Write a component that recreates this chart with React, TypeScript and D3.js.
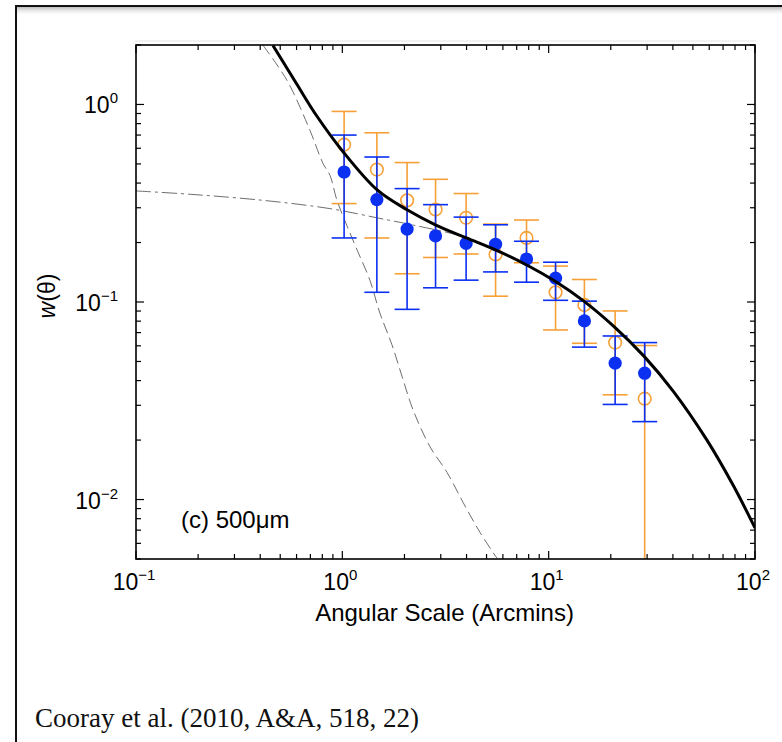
import React from "react";
import * as d3 from "d3";

// ---- Data ----
const theta = [1.02, 1.47, 2.06, 2.83, 3.98, 5.53, 7.81, 10.8, 14.9, 21.0, 29.2];
const blueW = [0.455, 0.33, 0.234, 0.216, 0.198, 0.196, 0.165, 0.132, 0.0802, 0.049, 0.0436];
const blueHi = [0.7, 0.542, 0.375, 0.311, 0.269, 0.246, 0.203, 0.159, 0.101, 0.0673, 0.0623];
const blueLo = [0.211, 0.112, 0.0918, 0.118, 0.129, 0.142, 0.126, 0.102, 0.0591, 0.0303, 0.0248];
const orangeW = [0.626, 0.468, 0.327, 0.294, 0.267, 0.174, 0.211, 0.112, 0.0966, 0.0623, 0.0324];
const orangeHi = [0.922, 0.719, 0.508, 0.418, 0.354, 0.248, 0.26, 0.152, 0.13, 0.0901, 0.0602];
const orangeLo = [0.315, 0.211, 0.139, 0.168, 0.175, 0.107, 0.158, 0.0722, 0.0618, 0.0339, 0.001];

const totalX = [0.461, 0.601, 0.752, 1.01, 1.48, 2.07, 2.84, 3.99, 5.52, 7.83, 10.8, 14.7, 21.0, 29.1, 40.2, 58.3, 78.5, 100];
const totalY = [1.99, 1.269, 0.874, 0.575, 0.368, 0.292, 0.245, 0.211, 0.1837, 0.154, 0.127, 0.1016, 0.0742, 0.0529, 0.0353, 0.0201, 0.01177, 0.00718];

const oneHaloX = [0.413, 0.54, 0.697, 0.805, 0.871, 0.942, 1.05, 1.18, 1.36, 1.52, 1.74, 1.97, 2.2, 2.66, 3.22, 3.85, 4.65, 5.62];
const oneHaloY = [1.99, 1.32, 0.739, 0.504, 0.438, 0.327, 0.245, 0.183, 0.129, 0.088, 0.0607, 0.0404, 0.0285, 0.0185, 0.0137, 0.00966, 0.00681, 0.00504];

const twoHaloX = [0.1, 0.183, 0.414, 0.871, 1.52, 2.21, 3.86, 5.5, 7.83, 10.8, 14.7, 21.0, 29.1, 40.2, 58.3, 78.5, 100];
const twoHaloY = [0.365, 0.351, 0.327, 0.297, 0.265, 0.245, 0.214, 0.1837, 0.153, 0.126, 0.101, 0.0738, 0.0527, 0.0352, 0.02, 0.0117, 0.00715];

const xMajor = [0.1, 1, 10, 100];
const xExp = ["\u22121", "0", "1", "2"];
const yMajor = [1, 0.1, 0.01];
const yExp = ["0", "\u22121", "\u22122"];

const xLabel = "Angular Scale (Arcmins)";
const yLabelW = "w";
const yLabelRest = "(\u03b8)";
const panelLabel = "(c) 500\u03bcm";
const caption = "Cooray et al. (2010, A&A, 518, 22)";

const W = 782;
const H = 742;
const L = 136, R = 755, T = 45, B = 559;

const BLUE = "#0b30f2";
const ORANGE = "#f6a037";
const SANS = "'Liberation Sans', Arial, Helvetica, sans-serif";

export default function App() {
  const x = d3.scaleLog().domain([0.1, 100]).range([L, R]);
  const y = d3.scaleLog().domain([0.005, 2.0]).range([B, T]);

  const line = (xs: number[], ys: number[]) =>
    d3
      .line<number>()
      .x((_, i) => x(xs[i]))
      .y((_, i) => y(ys[i]))
      .curve(d3.curveCatmullRom.alpha(0.5))(xs) || "";

  const xMinor: number[] = [];
  [0.1, 1, 10].forEach((d) => {
    for (let k = 2; k <= 9; k++) xMinor.push(d * k);
  });
  const yMinor: number[] = [];
  [0.001, 0.01, 0.1, 1].forEach((d) => {
    for (let k = 2; k <= 9; k++) {
      const v = d * k;
      if (v >= 0.005 && v <= 2.0) yMinor.push(v);
    }
  });

  const maj = 8, mnr = 5;
  const capW = 12.5;

  const ebar = (
    xs: number[],
    lo: number[],
    hi: number[],
    color: string,
    key: string
  ) =>
    xs.map((t, i) => {
      const cx = x(t);
      const yl = Math.min(y(Math.max(lo[i], 1e-6)), B + 40);
      const yh = y(hi[i]);
      return (
        <g key={key + i} stroke={color} strokeWidth={1.6} fill="none">
          <line x1={cx} x2={cx} y1={yh} y2={yl} />
          <line x1={cx - capW} x2={cx + capW} y1={yh} y2={yh} />
          <line x1={cx - capW} x2={cx + capW} y1={yl} y2={yl} />
        </g>
      );
    });

  return (
    <svg
      width={W}
      height={H}
      style={{ position: "absolute", left: 0, top: 0, background: "#fff" }}
    >
      <defs>
        <clipPath id="plotclip">
          <rect x={L} y={T} width={R - L} height={B - T} />
        </clipPath>
        <linearGradient id="shadowTop" x1="0" y1="0" x2="0" y2="1">
          <stop offset="0" stopColor="#bdbdbd" />
          <stop offset="1" stopColor="#ffffff" stopOpacity={0} />
        </linearGradient>
      </defs>
      <rect x={0} y={0} width={W} height={H} fill="#fff" />
      {/* outer page frame */}
      <rect x={17} y={7} width={W} height={9} fill="url(#shadowTop)" />
      <line x1={16} x2={W} y1={6} y2={6} stroke="#111" strokeWidth={2} />
      <line x1={16} x2={16} y1={5} y2={H} stroke="#111" strokeWidth={2} />
      <line x1={135} x2={R + 1} y1={41} y2={41} stroke="#e4e4e4" strokeWidth={1} />

      <g clipPath="url(#plotclip)">
        <path
          d={line(oneHaloX, oneHaloY)}
          fill="none"
          stroke="#6e6e6e"
          strokeWidth={1}
          strokeDasharray="11,5"
        />
        <path
          d={line(twoHaloX, twoHaloY)}
          fill="none"
          stroke="#6e6e6e"
          strokeWidth={1}
          strokeDasharray="15,4,3,4"
        />
        {ebar(theta, orangeLo, orangeHi, ORANGE, "o")}
        {theta.map((t, i) => (
          <circle
            key={"oc" + i}
            cx={x(t)}
            cy={y(orangeW[i])}
            r={6.3}
            fill="none"
            stroke={ORANGE}
            strokeWidth={1.6}
          />
        ))}
        {ebar(theta, blueLo, blueHi, BLUE, "b")}
        {theta.map((t, i) => (
          <circle key={"bc" + i} cx={x(t)} cy={y(blueW[i])} r={6.6} fill={BLUE} />
        ))}
        <path d={line(totalX, totalY)} fill="none" stroke="#000" strokeWidth={3} />
      </g>

      {/* frame */}
      <rect x={L} y={T} width={R - L} height={B - T} fill="none" stroke="#000" strokeWidth={1.6} />
      {/* ticks */}
      <g stroke="#000" strokeWidth={1.2}>
        {xMajor.map((v) => (
          <g key={"xm" + v}>
            <line x1={x(v)} x2={x(v)} y1={B} y2={B - maj} />
            <line x1={x(v)} x2={x(v)} y1={T} y2={T + maj} />
          </g>
        ))}
        {xMinor.map((v) => (
          <g key={"xn" + v}>
            <line x1={x(v)} x2={x(v)} y1={B} y2={B - mnr} />
            <line x1={x(v)} x2={x(v)} y1={T} y2={T + mnr} />
          </g>
        ))}
        {yMajor.map((v) => (
          <g key={"ym" + v}>
            <line x1={L} x2={L + maj} y1={y(v)} y2={y(v)} />
            <line x1={R} x2={R - maj} y1={y(v)} y2={y(v)} />
          </g>
        ))}
        {yMinor.map((v) => (
          <g key={"yn" + v}>
            <line x1={L} x2={L + mnr} y1={y(v)} y2={y(v)} />
            <line x1={R} x2={R - mnr} y1={y(v)} y2={y(v)} />
          </g>
        ))}
      </g>

      {/* tick labels */}
      <g fontFamily={SANS} fill="#000">
        {xMajor.map((v, i) => (
          <text key={"xl" + v} x={x(v) - 2} y={590} textAnchor="middle" fontSize={23}>
            10
            <tspan fontSize={15} dy={-10}>
              {xExp[i]}
            </tspan>
          </text>
        ))}
        {yMajor.map((v, i) => (
          <text key={"yl" + v} x={118} y={y(v) + 9} textAnchor="end" fontSize={23}>
            10
            <tspan fontSize={15} dy={-10}>
              {yExp[i]}
            </tspan>
          </text>
        ))}
        <text x={(L + R) / 2 - 1} y={621} textAnchor="middle" fontSize={24}>
          {xLabel}
        </text>
        <text
          transform={`translate(55, ${(T + B) / 2 - 6}) rotate(-90)`}
          textAnchor="middle"
          fontSize={23}
        >
          <tspan fontStyle="italic">{yLabelW}</tspan>
          {yLabelRest}
        </text>
        <text x={181} y={528} fontSize={24}>
          {panelLabel}
        </text>
      </g>

      <text
        x={35}
        y={727}
        fontFamily="'Liberation Serif', 'DejaVu Serif', serif"
        fontSize={27}
        fill="#111"
      >
        {caption}
      </text>
    </svg>
  );
}
